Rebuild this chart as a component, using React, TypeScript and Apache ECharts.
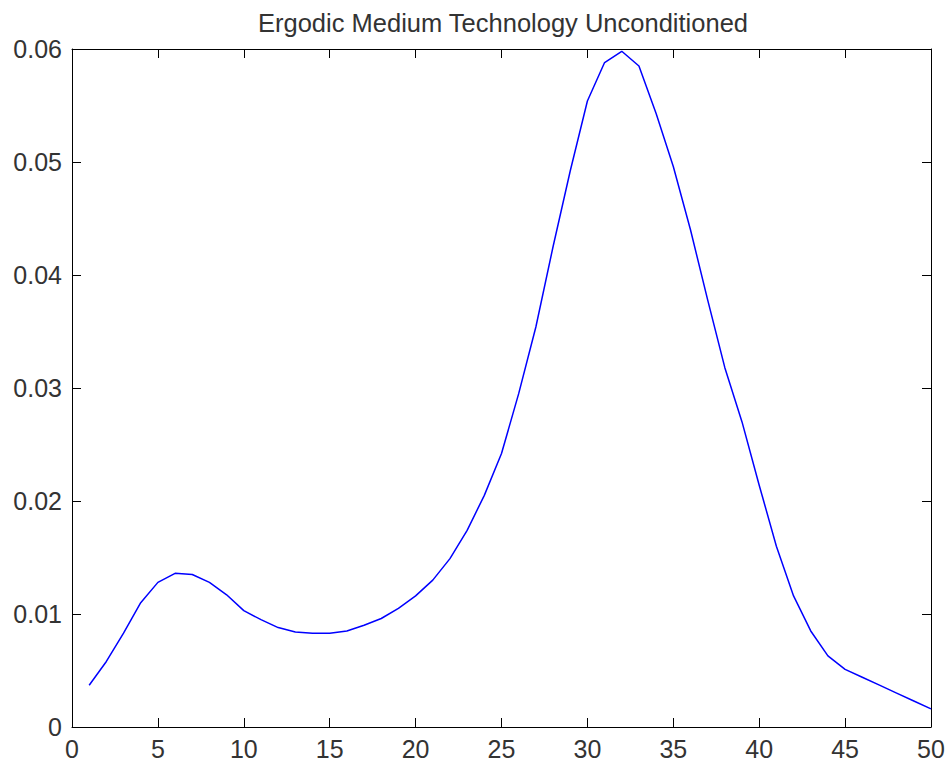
import React, { useEffect, useRef } from "react";
import * as echarts from "echarts";

const titleText = "Ergodic Medium Technology Unconditioned";

const xValues = [
  1, 2, 3, 4, 5, 6, 7, 8, 9, 10,
  11, 12, 13, 14, 15, 16, 17, 18, 19, 20,
  21, 22, 23, 24, 25, 26, 27, 28, 29, 30,
  31, 32, 33, 34, 35, 36, 37, 38, 39, 40,
  41, 42, 43, 44, 45, 46, 47, 48, 49, 50,
];

const yValues = [
  0.0037, 0.0058, 0.0083, 0.0110, 0.0128, 0.0136, 0.0135, 0.0128, 0.0117, 0.0103,
  0.0095, 0.0088, 0.0084, 0.0083, 0.0083, 0.0085, 0.0090, 0.0096, 0.0105, 0.0116,
  0.0130, 0.0149, 0.0174, 0.0205, 0.0242, 0.0295, 0.0354, 0.0425, 0.0492, 0.0554,
  0.0588, 0.0598, 0.0585, 0.0543, 0.0496, 0.0440, 0.0378, 0.0318, 0.0270, 0.0214,
  0.0160, 0.0116, 0.0085, 0.0063, 0.0051, 0.0044, 0.0037, 0.0030, 0.0023, 0.0016,
];

const xTicks = { min: 0, max: 50, interval: 5 };
const yTicks = { min: 0, max: 0.06, interval: 0.01 };

const FONT = "'Liberation Sans', Arial, sans-serif";

export default function App() {
  const ref = useRef<HTMLDivElement>(null);

  useEffect(() => {
    if (!ref.current) return;
    const chart = echarts.init(ref.current, null, { renderer: "svg" });
    const axisLine = { show: true, onZero: false, lineStyle: { color: "#000", width: 1 } };
    const axisTick = { show: true, inside: true, length: 9, lineStyle: { color: "#000", width: 1 } };
    chart.setOption({
      animation: false,
      backgroundColor: "#fff",
      title: {
        text: titleText,
        left: 498,
        textAlign: "center",
        top: 5,
        textStyle: { fontFamily: FONT, fontSize: 25.5, fontWeight: "normal", color: "#333" },
      },
      grid: { left: 72, right: 20, top: 49, bottom: 39, containLabel: false },
      xAxis: [
        {
          type: "value",
          min: xTicks.min,
          max: xTicks.max,
          interval: xTicks.interval,
          position: "bottom",
          axisLine,
          axisTick,
          splitLine: { show: false },
          axisLabel: {
            show: true,
            margin: 9,
            fontFamily: FONT,
            fontSize: 25,
            color: "#333",
          },
        },
        {
          type: "value",
          min: xTicks.min,
          max: xTicks.max,
          interval: xTicks.interval,
          position: "top",
          axisLine,
          axisTick,
          splitLine: { show: false },
          axisLabel: { show: false },
        },
      ],
      yAxis: [
        {
          type: "value",
          min: yTicks.min,
          max: yTicks.max,
          interval: yTicks.interval,
          position: "left",
          axisLine,
          axisTick,
          splitLine: { show: false },
          axisLabel: {
            show: true,
            margin: 10,
            fontFamily: FONT,
            fontSize: 25,
            color: "#333",
            formatter: (v: number) => (v === 0 ? "0" : v.toFixed(2)),
          },
        },
        {
          type: "value",
          min: yTicks.min,
          max: yTicks.max,
          interval: yTicks.interval,
          position: "right",
          axisLine,
          axisTick,
          splitLine: { show: false },
          axisLabel: { show: false },
        },
      ],
      series: [
        {
          type: "line",
          xAxisIndex: 0,
          yAxisIndex: 0,
          data: xValues.map((x, i) => [x, yValues[i]]),
          showSymbol: false,
          symbol: "none",
          lineStyle: { color: "#0000ff", width: 1.5 },
          smooth: false,
        },
      ],
    });
    return () => chart.dispose();
  }, []);

  return (
    <div
      ref={ref}
      style={{ position: "fixed", left: 0, top: 0, width: 951, height: 766, background: "#fff" }}
    />
  );
}
